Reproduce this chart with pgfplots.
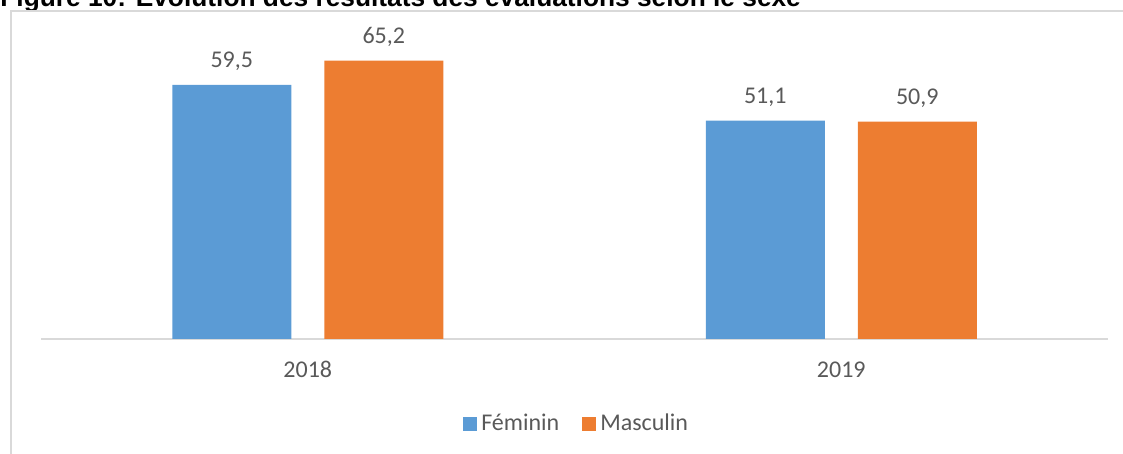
\documentclass[border=0pt]{standalone}
\usepackage{fontspec}
\setmainfont{Carlito}
\newfontfamily\titlefont{Liberation Sans}
\usepackage{pgfplots}
\pgfplotsset{compat=1.18}
\definecolor{bleu}{HTML}{5B9BD5}
\definecolor{orange}{HTML}{ED7D31}
\definecolor{texte}{HTML}{595959}
\definecolor{trait}{HTML}{D9D9D9}
\begin{document}
\begin{tikzpicture}
  \clip (0,0) rectangle (561.5pt,227pt);
  % titre coupé en haut, comme dans la capture
  \node[anchor=base west, inner sep=0, font=\titlefont\bfseries\fontsize{13.15pt}{15pt}\selectfont]
    at (0pt,223.6pt) {Figure 10: Évolution des résultats des évaluations selon le sexe};
  \draw[trait, line width=0.75pt] (5.5pt,0pt) -- (5.5pt,221.5pt) -- (561.5pt,221.5pt);
  \begin{axis}[
    at={(20.5pt,57.5pt)}, anchor=south west,
    scale only axis, width=533.5pt, height=149.5pt,
    ybar, bar width=59.5pt,
    xmin=-0.5, xmax=1.5, ymin=0, ymax=70,
    axis x line*=bottom, axis y line=none,
    x axis line style={-, trait, line width=0.75pt},
    xtick={0,1}, xticklabels={2018,2019},
    major tick length=0pt,
    xticklabel style={anchor=base, inner sep=0pt, yshift=-19.5pt, text=texte, font=\fontsize{12pt}{14pt}\selectfont},
    nodes near coords,
    nodes near coords style={anchor=base, inner sep=0pt, yshift=8.5pt, text=texte, font=\fontsize{12pt}{14pt}\selectfont},
    /pgf/number format/.cd, use comma, fixed, fixed zerofill, precision=1, assume math mode=true,
    /pgfplots/.cd,
    legend columns=2,
    legend style={at={(0.503,-0.284)}, anchor=center, draw=none, fill=none,
      font=\fontsize{12pt}{14pt}\selectfont, text=texte,
      /tikz/every even column/.append style={column sep=9.5pt}},
    legend image code/.code={\fill[#1, draw=none] (0pt,-3.5pt) rectangle (7pt,3.5pt);},
  ]
    \addplot[fill=bleu, draw=none, bar shift=-38pt] coordinates {(0,59.5) (1,51.1)};
    \addplot[fill=orange, draw=none, bar shift=38pt] coordinates {(0,65.2) (1,50.9)};
    \legend{Féminin, Masculin}
  \end{axis}
\end{tikzpicture}
\end{document}
